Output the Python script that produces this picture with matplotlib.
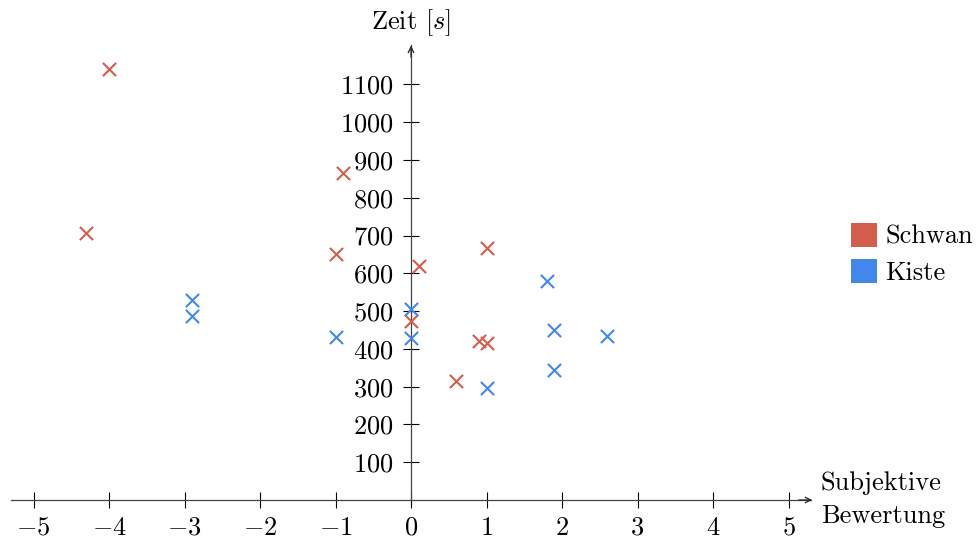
import matplotlib
matplotlib.use("Agg")
import matplotlib.pyplot as plt
from matplotlib.patches import Patch
from matplotlib.ticker import FuncFormatter

# Data
schwan_x = [-4.0, -4.3, -0.9, -1.0, 0.1, 0.0, 1.0, 0.9, 1.0, 0.6]
schwan_y = [1140, 707, 866, 652, 619, 474, 666, 420, 415, 316]
kiste_x = [-2.9, -2.9, -1.0, 0.0, 0.0, 1.0, 1.8, 1.9, 1.9, 2.6]
kiste_y = [529, 487, 432, 505, 428, 296, 579, 450, 344, 434]
x_ticks = [-5, -4, -3, -2, -1, 0, 1, 2, 3, 4, 5]
y_ticks = [100, 200, 300, 400, 500, 600, 700, 800, 900, 1000, 1100]
series_names = ["Schwan", "Kiste"]
colors = ["#d35e4c", "#4287ec"]

plt.rcParams['font.family'] = ['cmr10', 'DejaVu Serif']
plt.rcParams['mathtext.fontset'] = 'cm'
plt.rcParams['axes.formatter.use_mathtext'] = True

FS = 19
W, H = 976, 539
fig = plt.figure(figsize=(W / 100, H / 100), dpi=100)

x0, x1 = -5.3, 5.3
y0, y1 = 0, 1205
px_per_x = 75.5
px_per_y = 0.3778
left_px = 411 + x0 * px_per_x
width_px = (x1 - x0) * px_per_x
bottom_px = H - 500
height_px = (y1 - y0) * px_per_y
ax = fig.add_axes([left_px / W, bottom_px / H, width_px / W, height_px / H])
ax.set_xlim(x0, x1)
ax.set_ylim(y0, y1)

for s in ['top', 'right']:
    ax.spines[s].set_visible(False)
ax.spines['left'].set_position(('data', 0))
ax.spines['bottom'].set_position(('data', 0))
for s in ['left', 'bottom']:
    ax.spines[s].set_color('#444444')
    ax.spines[s].set_linewidth(0.9)
ax.patch.set_alpha(0)

ax.set_xticks(x_ticks)
ax.set_yticks(y_ticks)
fmt = FuncFormatter(lambda v, p: r'$%d$' % v)
ax.xaxis.set_major_formatter(fmt)
ax.yaxis.set_major_formatter(fmt)
ax.tick_params(direction='inout', length=11, width=0.8, labelsize=FS, color='black')
ax.tick_params(axis='y', pad=7)
ax.tick_params(axis='x', pad=6)

# arrows
ax.annotate('', xy=(x1 + 0.05, 0), xytext=(x1 - 0.2, 0),
            arrowprops=dict(arrowstyle='->', lw=0.9, color='#222222', mutation_scale=10),
            annotation_clip=False)
ax.annotate('', xy=(0, y1 + 5), xytext=(0, y1 - 40),
            arrowprops=dict(arrowstyle='->', lw=0.9, color='#222222', mutation_scale=10),
            annotation_clip=False)

ax.scatter(schwan_x, schwan_y, marker='x', s=90, linewidths=1.5, color=colors[0], zorder=3, clip_on=False)
ax.scatter(kiste_x, kiste_y, marker='x', s=90, linewidths=1.5, color=colors[1], zorder=3, clip_on=False)

fig.text(411 / W, 1 - 23 / H, r'Zeit [$s$]', ha='center', va='center', fontsize=FS)
fig.text(821 / W, 1 - 483 / H, 'Subjektive', ha='left', va='center', fontsize=FS)
fig.text(821 / W, 1 - 516 / H, 'Bewertung', ha='left', va='center', fontsize=FS)

handles = [Patch(facecolor=c, edgecolor='none') for c in colors]
fig.legend(handles, series_names, loc='upper left', bbox_to_anchor=(851 / W, 1 - 223 / H),
           frameon=False, fontsize=FS, handlelength=1.0, handleheight=1.0,
           handletextpad=0.3, labelspacing=0.4, borderpad=0, borderaxespad=0)

fig.savefig('out.png', dpi=100)
